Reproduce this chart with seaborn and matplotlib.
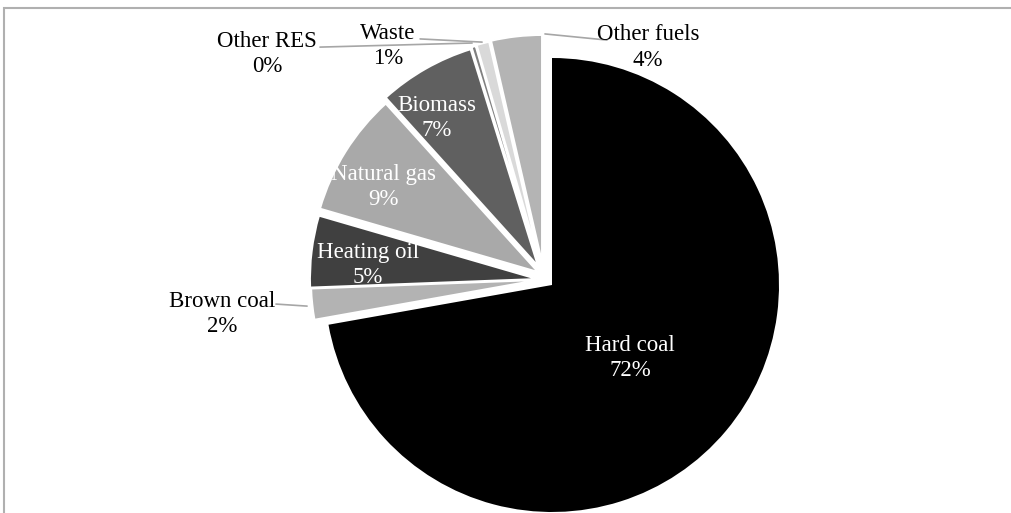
import matplotlib
matplotlib.use('Agg')
import matplotlib.pyplot as plt
import seaborn as sns
from matplotlib.patches import Rectangle

# data (shares of fuel use, %)
fuels = ['Hard coal', 'Brown coal', 'Heating oil', 'Natural gas', 'Biomass', 'Other RES', 'Waste', 'Other fuels']
shares = [72.2, 2.2, 5.1, 8.8, 6.9, 0.3, 0.9, 3.6]
greys = ['#000000', '#b3b3b3', '#404040', '#a9a9a9', '#606060', '#808080', '#d9d9d9', '#b4b4b4']

sns.set_style('white')
plt.rcParams['font.family'] = ['Liberation Serif', 'DejaVu Serif']

W, H = 1012, 513
cx, cy, R = 552, 285, 227   # pie centre / radius in pixels

fig = plt.figure(figsize=(W/100, H/100), dpi=100)
ax = fig.add_axes([0, 0, 1, 1])

wedges, _ = ax.pie(shares, colors=greys, startangle=90, counterclock=False,
                   radius=1, wedgeprops=dict(edgecolor='white', linewidth=1.4))
wedges[0].set_edgecolor('none')
# small slices are pulled out up and to the left (pixel offsets, y down)
pull = {'Brown coal': (-14, -5), 'Heating oil': (-15, -6), 'Natural gas': (-14, -13),
        'Biomass': (-14, -19), 'Other RES': (-13, -21), 'Waste': (-12, -22),
        'Other fuels': (-10, -23)}
for f, w in zip(fuels, wedges):
    if f in pull:
        dx, dy = pull[f]
        w.set_center((dx/R, -dy/R))

ax.set_xlim(-cx/R, (W-cx)/R)
ax.set_ylim(-(H-cy)/R, cy/R)
ax.set_aspect('equal')
ax.axis('off')

total = sum(shares)
# label positions (in pie radius units), inside labels are white
label_pos = {'Hard coal': (0.344, -0.322), 'Brown coal': (-1.454, -0.128),
             'Heating oil': (-0.81, 0.088), 'Natural gas': (-0.744, 0.432),
             'Biomass': (-0.507, 0.736), 'Other RES': (-1.256, 1.018),
             'Waste': (-0.722, 1.053), 'Other fuels': (0.423, 1.048)}
inside = ['Hard coal', 'Heating oil', 'Natural gas', 'Biomass']
for f, s in zip(fuels, shares):
    x, y = label_pos[f]
    ax.text(x, y, f'{f}\n{s/total*100:.0f}%', ha='center', va='center', fontsize=16.5,
            linespacing=1.3, color='white' if f in inside else 'black')

# leader lines
leaders = {'Other RES': [(-1.022, -0.352), (1.048, 1.066)],
           'Waste': [(-0.581, -0.308), (1.084, 1.070)],
           'Other fuels': [(-0.031, 0.242), (1.106, 1.079)],
           'Brown coal': [(-1.216, -1.079), (-0.084, -0.093)]}
for f, (xs, ys) in leaders.items():
    ax.plot(xs, ys, color='#a6a6a6', lw=1.2)

# chart border
fig.patches.append(Rectangle((4/W, -0.1), 1.2, 1 + 0.1 - 8/H, transform=fig.transFigure,
                             fill=False, edgecolor='#b0b0b0', lw=1.5))

fig.savefig('out.png', dpi=100)
